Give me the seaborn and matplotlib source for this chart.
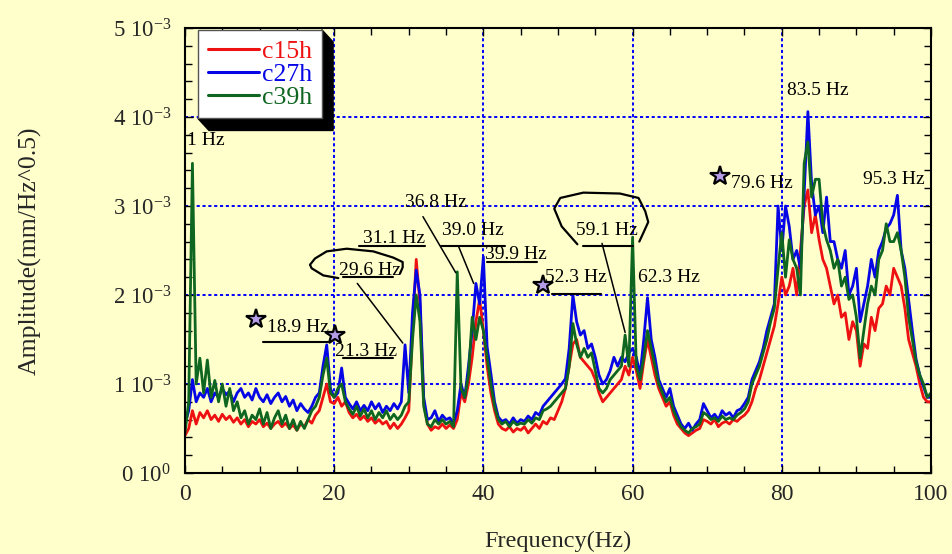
import numpy as np
import pandas as pd
import matplotlib
matplotlib.use("Agg")
import matplotlib.pyplot as plt
import seaborn as sns
from matplotlib.ticker import MultipleLocator, FixedLocator, FixedFormatter
from matplotlib.patches import Polygon
from matplotlib.transforms import IdentityTransform
from matplotlib.lines import Line2D

# ---------------- data (amplitudes in units of 1e-3 mm/Hz^0.5) ----------------
freq = np.arange(0, 100.5, 0.5)

c15h = [
    0.42, 0.50, 0.70, 0.55, 0.68, 0.62, 0.70, 0.60, 0.65, 0.58,
    0.66, 0.60, 0.64, 0.57, 0.62, 0.55, 0.60, 0.52, 0.58, 0.55,
    0.60, 0.52, 0.56, 0.50, 0.55, 0.58, 0.52, 0.56, 0.50, 0.54,
    0.48, 0.55, 0.52, 0.60, 0.56, 0.65, 0.70, 0.85, 1.00, 0.80,
    0.78, 0.85, 0.75, 0.80, 0.68, 0.62, 0.66, 0.60, 0.64, 0.58,
    0.62, 0.56, 0.60, 0.55, 0.58, 0.50, 0.56, 0.50, 0.55, 0.62,
    0.70, 1.60, 2.40, 1.90, 0.80, 0.55, 0.48, 0.52, 0.50, 0.55,
    0.50, 0.54, 0.50, 0.60, 0.90, 0.80, 1.00, 1.30, 1.70, 1.95,
    1.60, 1.20, 0.90, 0.70, 0.55, 0.50, 0.48, 0.52, 0.46, 0.50,
    0.48, 0.52, 0.45, 0.50, 0.55, 0.50, 0.58, 0.55, 0.62, 0.60,
    0.70, 0.80, 0.95, 1.20, 1.45, 1.50, 1.30, 1.25, 1.20, 1.15,
    1.05, 0.90, 0.80, 0.85, 0.90, 0.95, 1.00, 1.05, 1.20, 1.10,
    1.30, 1.15, 0.95, 1.25, 1.50, 1.30, 1.10, 0.95, 0.85, 0.75,
    0.80, 0.65, 0.55, 0.50, 0.45, 0.42, 0.45, 0.48, 0.50, 0.60,
    0.58, 0.55, 0.60, 0.52, 0.56, 0.58, 0.55, 0.60, 0.58, 0.62,
    0.65, 0.70, 0.80, 0.95, 1.05, 1.20, 1.35, 1.50, 1.65, 1.90,
    2.20, 2.00, 2.10, 2.30, 2.00, 2.50, 3.00, 3.18, 2.70, 2.90,
    2.62, 2.40, 2.30, 2.10, 1.90, 2.00, 1.75, 1.80, 1.50, 1.70,
    1.60, 1.20, 1.45, 1.40, 1.75, 1.60, 1.85, 1.90, 2.10, 2.00,
    2.30, 2.20, 2.10, 1.85, 1.50, 1.35, 1.20, 1.00, 0.85, 0.80,
    0.80,
]

c27h = [
    0.55, 0.70, 1.05, 0.80, 0.90, 0.85, 0.95, 0.80, 0.90, 0.85,
    0.95, 0.88, 0.92, 0.80, 0.90, 0.95, 0.85, 0.90, 0.82, 0.95,
    0.85, 0.80, 0.88, 0.78, 0.85, 0.90, 0.80, 0.86, 0.75, 0.82,
    0.70, 0.78, 0.72, 0.68, 0.75, 0.85, 0.90, 1.20, 1.44, 0.95,
    0.85, 0.90, 1.18, 0.85, 0.78, 0.72, 0.80, 0.70, 0.76, 0.70,
    0.80, 0.72, 0.78, 0.68, 0.75, 0.70, 0.78, 0.72, 0.80, 1.44,
    0.90, 1.80, 2.28, 2.00, 0.85, 0.60, 0.62, 0.70, 0.58, 0.65,
    0.60, 0.62, 0.56, 0.70, 1.00, 0.85, 1.20, 1.60, 2.13, 1.90,
    2.43, 1.42, 1.12, 0.80, 0.63, 0.58, 0.60, 0.55, 0.62, 0.56,
    0.60, 0.58, 0.64, 0.60, 0.68, 0.65, 0.75, 0.80, 0.85, 0.90,
    0.95, 1.00, 1.06, 1.40, 2.00, 1.70, 1.55, 1.60, 1.40, 1.45,
    1.30, 1.10, 1.00, 1.05, 1.15, 1.30, 1.20, 1.30, 1.25, 1.35,
    1.40, 1.30, 1.10, 1.50, 1.97, 1.50, 1.30, 1.05, 0.95, 0.85,
    0.95, 0.75, 0.65, 0.55, 0.50, 0.56, 0.48, 0.55, 0.60, 0.78,
    0.70, 0.62, 0.66, 0.60, 0.70, 0.65, 0.68, 0.62, 0.70, 0.72,
    0.78, 0.85, 1.05, 1.15, 1.25, 1.40, 1.60, 1.75, 1.90, 3.00,
    2.50, 3.00, 2.77, 2.40, 2.50, 2.30, 3.14, 4.06, 3.25, 2.90,
    3.00, 2.70, 3.10, 2.60, 2.60, 2.40, 2.30, 2.50, 2.00, 2.10,
    2.30, 1.70, 1.90, 2.10, 2.40, 2.20, 2.50, 2.60, 2.75, 2.80,
    2.90, 3.12, 2.50, 2.30, 1.95, 1.60, 1.28, 1.10, 0.97, 0.85,
    0.85,
]

c39h = [
    0.45, 0.80, 3.48, 1.00, 1.29, 0.90, 1.27, 0.85, 1.04, 0.80,
    1.00, 0.75, 0.95, 0.70, 0.80, 0.62, 0.70, 0.55, 0.65, 0.60,
    0.72, 0.55, 0.68, 0.50, 0.62, 0.70, 0.55, 0.65, 0.50, 0.60,
    0.48, 0.58, 0.50, 0.60, 0.70, 0.75, 0.85, 1.10, 1.29, 0.90,
    0.85, 0.95, 1.00, 0.80, 0.72, 0.66, 0.75, 0.64, 0.72, 0.62,
    0.70, 0.60, 0.68, 0.62, 0.70, 0.60, 0.66, 0.60, 0.65, 0.75,
    0.80, 1.50, 2.00, 1.70, 0.75, 0.55, 0.52, 0.60, 0.55, 0.60,
    0.55, 0.58, 0.52, 2.26, 0.95, 0.85, 1.10, 1.75, 1.50, 1.75,
    1.60, 1.30, 1.00, 0.75, 0.60, 0.55, 0.58, 0.52, 0.58, 0.54,
    0.56, 0.55, 0.60, 0.56, 0.62, 0.60, 0.70, 0.72, 0.75, 0.80,
    0.85, 0.90, 0.95, 1.20, 1.68, 1.45, 1.30, 1.40, 1.30, 1.35,
    1.15, 0.95, 0.90, 0.95, 1.05, 1.10, 1.15, 1.20, 1.55, 1.20,
    2.65, 1.20, 1.05, 1.30, 1.60, 1.40, 1.20, 1.00, 0.90, 0.80,
    0.85, 0.70, 0.60, 0.52, 0.48, 0.45, 0.50, 0.52, 0.55, 0.68,
    0.65, 0.60, 0.62, 0.58, 0.64, 0.60, 0.62, 0.60, 0.65, 0.68,
    0.72, 0.80, 1.00, 1.10, 1.20, 1.35, 1.50, 1.70, 1.85, 2.30,
    2.70, 2.20, 2.62, 2.40, 2.30, 2.00, 3.48, 3.72, 3.10, 3.30,
    3.30, 2.80, 2.62, 2.50, 2.30, 2.40, 2.10, 2.20, 1.95, 2.00,
    1.75, 1.29, 1.60, 1.90, 2.10, 2.00, 2.40, 2.50, 2.80, 2.60,
    2.60, 2.70, 2.50, 2.20, 1.75, 1.50, 1.25, 1.10, 1.00, 0.85,
    0.90,
]

series_names = ["c15h", "c27h", "c39h"]
series_colors = {"c15h": "#EE1111", "c27h": "#0505E6", "c39h": "#0E6620"}

xtick_vals = [0, 20, 40, 60, 80, 100]
ytick_vals = [0, 1, 2, 3, 4, 5]          # x 1e-3
ytick_labels = [r"0 10$^{0}$", r"1 10$^{-3}$", r"2 10$^{-3}$",
                r"3 10$^{-3}$", r"4 10$^{-3}$", r"5 10$^{-3}$"]

# peak labels: text, x (Hz), y (1e-3)
peak_texts = ["1 Hz", "18.9 Hz", "21.3 Hz", "29.6 Hz", "31.1 Hz", "36.8 Hz",
              "39.0 Hz", "39.9 Hz", "52.3 Hz", "59.1 Hz", "62.3 Hz",
              "79.6 Hz", "83.5 Hz", "95.3 Hz"]
peak_text_x = [0.3, 11.0, 20.1, 20.6, 23.9, 29.5, 34.4, 40.2, 48.3, 52.4,
               60.7, 73.2, 80.7, 90.9]
peak_text_y = [3.74, 1.63, 1.36, 2.27, 2.64, 3.04, 2.72, 2.45, 2.20, 2.73,
               2.20, 3.25, 4.30, 3.30]

# underlines: x0, x1, y
underline_x0 = [10.45, 21.2, 21.2, 23.3, 34.3, 40.5, 49.2, 53.4]
underline_x1 = [19.2, 27.9, 27.9, 32.2, 42.9, 47.2, 55.8, 60.0]
underline_y = [1.47, 1.29, 2.20, 2.55, 2.55, 2.37, 2.01, 2.55]

# leader lines: (x0, y0) -> (x1, y1)
leader_x0 = [23.1, 31.9, 36.7, 55.9]
leader_y0 = [2.13, 2.88, 2.54, 2.58]
leader_x1 = [29.2, 36.3, 38.7, 59.0]
leader_y1 = [1.46, 2.25, 2.13, 1.58]

# hand-drawn loops
loop1_x = [20.55, 18.54, 16.98, 16.76, 17.43, 19.0, 21.68, 25.24, 27.92, 29.18, 29.18, 28.82]
loop1_y = [2.19, 2.22, 2.30, 2.34, 2.41, 2.49, 2.52, 2.49, 2.42, 2.37, 2.31, 2.24]
loop2_x = [52.6, 50.5, 49.5, 50.3, 53.4, 58.3, 60.8, 61.7, 62.1, 61.4, 60.9]
loop2_y = [2.57, 2.77, 2.97, 3.09, 3.15, 3.14, 3.09, 2.94, 2.82, 2.69, 2.60]

# star markers
star_x = [9.5, 20.1, 48.0, 71.7]
star_y = [1.73, 1.55, 2.11, 3.34]

# ---------------- style ----------------
sns.set_theme(style="ticks")
plt.rcParams["font.family"] = ["Liberation Serif", "DejaVu Serif"]
plt.rcParams["mathtext.fontset"] = "custom"
plt.rcParams["mathtext.rm"] = "Liberation Serif"
plt.rcParams["mathtext.it"] = "Liberation Serif:italic"
plt.rcParams["mathtext.bf"] = "Liberation Serif:bold"

BG = "#FFFFCC"
fig = plt.figure(figsize=(9.53, 5.54), dpi=100, facecolor=BG)
ax = fig.add_axes([0.1941, 0.1462, 0.7828, 0.8033])
ax.set_facecolor(BG)

df = pd.DataFrame({
    "freq": np.tile(freq, 3),
    "amp": np.concatenate([c15h, c27h, c39h]) * 1e-3,
    "series": np.repeat(series_names, len(freq)),
})

sns.lineplot(data=df, x="freq", y="amp", hue="series", hue_order=series_names,
             palette=series_colors, estimator=None, sort=False, lw=2.0,
             legend=False, ax=ax, zorder=3)

ax.set_xlim(0, 100)
ax.set_ylim(0, 5e-3)
ax.xaxis.set_major_locator(FixedLocator(xtick_vals))
ax.xaxis.set_minor_locator(MultipleLocator(5))
ax.yaxis.set_major_locator(FixedLocator([v * 1e-3 for v in ytick_vals]))
ax.yaxis.set_major_formatter(FixedFormatter(ytick_labels))
ax.yaxis.set_minor_locator(MultipleLocator(0.2e-3))

ax.grid(which="major", color="#0000FF", linestyle=(0, (1.6, 1.4)), lw=1.4, zorder=1)
ax.tick_params(which="both", direction="in", top=True, right=True,
               color="black", width=1.0)
ax.tick_params(which="major", length=6)
ax.tick_params(which="minor", length=5)
ax.tick_params(axis="x", labelsize=17, pad=8)
ax.tick_params(axis="y", labelsize=16.5, pad=10)
for sp in ax.spines.values():
    sp.set_color("black")
    sp.set_linewidth(1.5)
    sp.set_zorder(6)

ax.set_xlabel("Frequency(Hz)", fontsize=17.5)
ax.set_ylabel("Amplitude(mm/Hz^0.5)", fontsize=18.5)
ax.xaxis.set_label_coords(0.5, -0.13)
ax.yaxis.set_label_coords(-0.192, 0.5)

# annotations
for t, x, y in zip(peak_texts, peak_text_x, peak_text_y):
    ax.text(x, y * 1e-3, t, fontsize=14, color="black", ha="left", va="center", zorder=7)
for x0, x1, y in zip(underline_x0, underline_x1, underline_y):
    ax.plot([x0, x1], [y * 1e-3, y * 1e-3], color="black", lw=1.5, zorder=7)
for x0, y0, x1, y1 in zip(leader_x0, leader_y0, leader_x1, leader_y1):
    ax.plot([x0, x1], [y0 * 1e-3, y1 * 1e-3], color="black", lw=1.1, zorder=7)
ax.plot(loop1_x, [v * 1e-3 for v in loop1_y], color="black", lw=1.6, zorder=7)
ax.plot(loop2_x, [v * 1e-3 for v in loop2_y], color="black", lw=1.6, zorder=7)
ax.plot(star_x, [v * 1e-3 for v in star_y], linestyle="none", marker="*",
        markersize=15, markerfacecolor="#B49CE6", markeredgecolor="black",
        markeredgewidth=1.6, zorder=8)

# legend
handles = [Line2D([], [], color=series_colors[n], lw=2.2) for n in series_names]
leg = ax.legend(handles, series_names, loc="upper left",
                bbox_to_anchor=(0.0174, 0.9955), borderaxespad=0,
                fontsize=18.5, frameon=True, fancybox=False, handlelength=2.0,
                handletextpad=0.12, labelspacing=0.0, borderpad=0.38)
leg.set_zorder(10)
fr = leg.get_frame()
fr.set_facecolor("white")
fr.set_edgecolor("#555555")
fr.set_linewidth(1.0)
fr.set_alpha(1)
for txt, n in zip(leg.get_texts(), series_names):
    txt.set_color(series_colors[n])

fig.canvas.draw()
bb = leg.get_window_extent()
ox, oy = 11, 12
shadow = Polygon([(bb.x0, bb.y0), (bb.x0 + ox, bb.y0 - oy), (bb.x1 + ox, bb.y0 - oy),
                  (bb.x1 + ox, bb.y1 - oy), (bb.x1, bb.y1)], closed=True,
                 transform=IdentityTransform(), facecolor="black",
                 edgecolor="black", zorder=9)
ax.add_artist(shadow)
shadow.set_clip_on(False)

fig.savefig("out.png", dpi=100, facecolor=BG)
